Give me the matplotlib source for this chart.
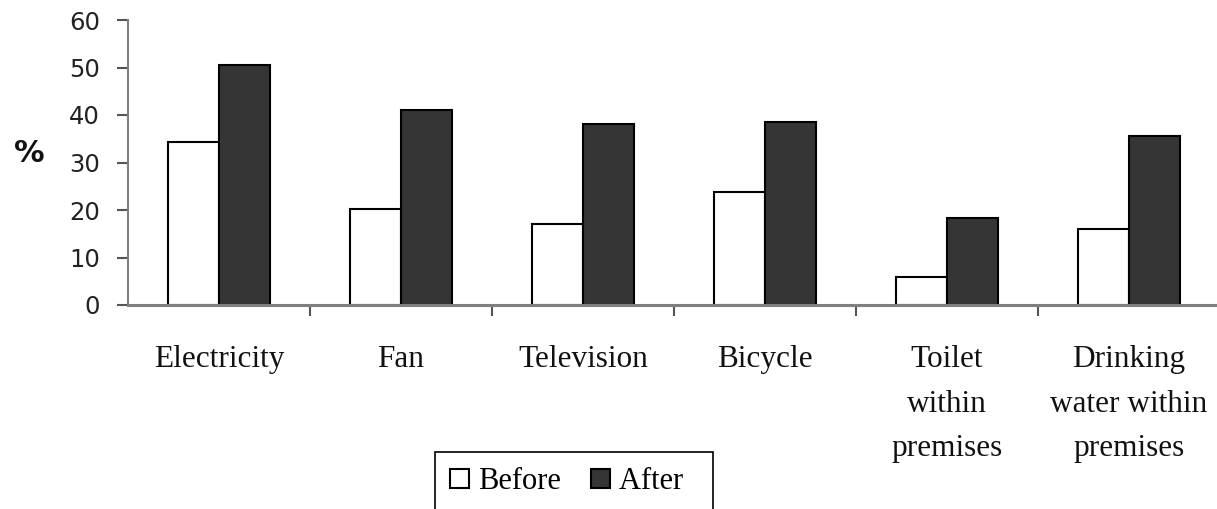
import matplotlib
matplotlib.use("Agg")
import matplotlib.pyplot as plt
import numpy as np

# data
categories = ["Electricity", "Fan", "Television", "Bicycle",
              "Toilet\nwithin\npremises", "Drinking\nwater within\npremises"]
before = [34.3, 20.2, 17.1, 23.8, 5.9, 15.9]
after = [50.6, 41.0, 38.2, 38.6, 18.3, 35.5]
yticks = [0, 10, 20, 30, 40, 50, 60]

fig = plt.figure(figsize=(12.17, 5.09), dpi=100)
ax = fig.add_axes([128 / 1217, 204 / 509, 1092 / 1217, 285 / 509])

x = np.arange(len(categories))
w = 0.28
ax.bar(x - w / 2, before, w, color="white", edgecolor="black", linewidth=1.5, label="Before", zorder=3)
ax.bar(x + w / 2, after, w, color="#353535", edgecolor="black", linewidth=1.5, label="After  ", zorder=3)

ax.set_xlim(-0.5, len(categories) - 0.5)
ax.set_ylim(0, 60)
ax.set_yticks(yticks)
ax.set_yticklabels([str(v) for v in yticks], fontsize=17.5, color="#222222", family="DejaVu Sans")

ax.set_xticks(x)
ax.set_xticklabels(categories, fontsize=22.5, family="Liberation Serif", linespacing=1.7, color="#111111")
ax.set_xticks(np.arange(0.5, len(categories) - 0.5, 1), minor=True)
ax.tick_params(axis="x", which="major", length=0, pad=29)
ax.tick_params(axis="x", which="minor", length=8, width=1.5, color="#555555", direction="out")
ax.tick_params(axis="y", length=8, width=1.5, color="#555555", direction="out", pad=12)

for s in ["top", "right"]:
    ax.spines[s].set_visible(False)
ax.spines["left"].set_color("#808080")
ax.spines["left"].set_linewidth(1.5)
ax.spines["bottom"].set_color("#808080")
ax.spines["bottom"].set_linewidth(2.2)
ax.spines["bottom"].set_zorder(4)

fig.text(29 / 1217, 1 - 153 / 509, "%", fontsize=22, fontweight="bold", family="DejaVu Sans",
         ha="center", va="center", color="#111111")

leg = ax.legend(loc="upper left", bbox_to_anchor=(435 / 1217, 1 - 452 / 509), bbox_transform=fig.transFigure,
                ncol=2, frameon=True, fancybox=False, edgecolor="black", framealpha=1,
                prop={"family": "Liberation Serif", "size": 22},
                handlelength=0.6, handleheight=0.6, handletextpad=0.3, columnspacing=1.0,
                borderpad=0.5, borderaxespad=0)
leg.get_frame().set_linewidth(1.2)

fig.savefig("out.png", dpi=100)
